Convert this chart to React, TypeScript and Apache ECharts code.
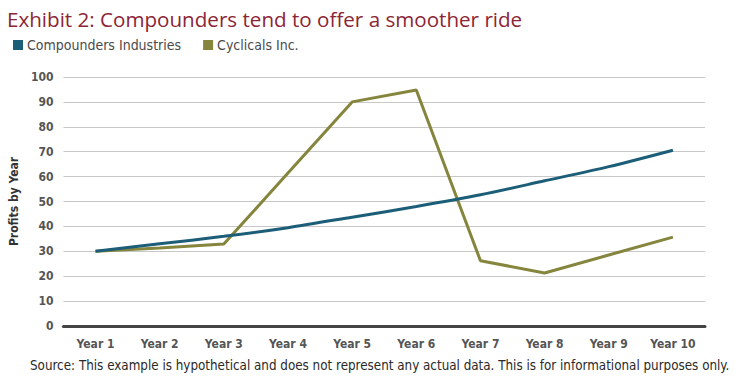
import React, { useEffect, useRef } from "react";
import * as echarts from "echarts";

const categories = ["Year 1", "Year 2", "Year 3", "Year 4", "Year 5", "Year 6", "Year 7", "Year 8", "Year 9", "Year 10"];
const compounders = [30, 33, 36, 39.5, 43.7, 48, 52.7, 58.3, 64, 70.6];
const cyclicals = [30, 31.3, 32.9, 61.4, 90, 94.8, 26.2, 21.3, 28.5, 35.7];
const yTicks = { min: 0, max: 100, interval: 10 };

export default function App() {
  const ref = useRef<HTMLDivElement>(null);
  useEffect(() => {
    const chart = echarts.init(ref.current!, undefined, { renderer: "svg" });
    const condensed = "'DejaVu Sans Condensed', 'Liberation Sans Narrow', sans-serif";
    chart.setOption({
      animation: false,
      backgroundColor: "#ffffff",
      title: {
        text: "Exhibit 2: Compounders tend to offer a smoother ride",
        left: 2,
        top: 3,
        textStyle: { fontFamily: "'Open Sans', sans-serif", fontSize: 20.6, fontWeight: "normal", color: "#8c2535" },
      },
      legend: {
        left: 8,
        top: 33,
        icon: "rect",
        itemWidth: 10,
        itemHeight: 10,
        itemGap: 22,
        textStyle: { fontFamily: condensed, fontSize: 14, color: "#4a4a4a", padding: [0, 0, 0, -1] },
        data: ["Compounders Industries", "Cyclicals Inc."],
      },
      grid: { left: 63, right: 41, top: 77, bottom: 66, containLabel: false },
      xAxis: {
        type: "category",
        data: categories,
        boundaryGap: true,
        axisLine: { lineStyle: { color: "#444", width: 3 } },
        axisTick: { show: false },
        axisLabel: { fontFamily: condensed, fontWeight: "bold", fontSize: 12, color: "#555", margin: 12 },
      },
      yAxis: {
        type: "value",
        min: yTicks.min,
        max: yTicks.max,
        interval: yTicks.interval,
        name: "Profits by Year",
        nameLocation: "middle",
        nameGap: 38,
        nameTextStyle: { fontFamily: condensed, fontWeight: "bold", fontSize: 12, color: "#333" },
        axisLine: { show: false },
        axisTick: { show: false },
        axisLabel: { fontFamily: condensed, fontWeight: "bold", fontSize: 12, color: "#555", margin: 10 },
        splitLine: { lineStyle: { color: "#c8c8c8", width: 1 } },
      },
      graphic: [
        {
          type: "text",
          left: 30,
          top: 359,
          style: {
            text: "Source: This example is hypothetical and does not represent any actual data. This is for informational purposes only.",
            fontFamily: condensed,
            fontSize: 13.3,
            fill: "#2a2a2a",
          },
        },
      ],
      series: [
        {
          name: "Compounders Industries",
          type: "line",
          data: compounders,
          symbol: "none",
          smooth: 0.3,
          itemStyle: { color: "#1c5d78" },
          lineStyle: { color: "#1c5d78", width: 3 },
          z: 3,
        },
        {
          name: "Cyclicals Inc.",
          type: "line",
          data: cyclicals,
          symbol: "none",
          itemStyle: { color: "#85853d" },
          lineStyle: { color: "#85853d", width: 3 },
          z: 2,
        },
      ],
    });
    return () => chart.dispose();
  }, []);
  return <div ref={ref} style={{ width: 746, height: 392, position: "absolute", left: 0, top: 0 }} />;
}
